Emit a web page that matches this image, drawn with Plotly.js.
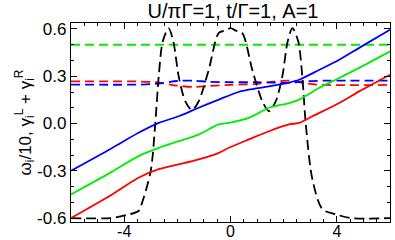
<!DOCTYPE html>
<html>
<head>
<meta charset="utf-8">
<script src="https://cdn.plot.ly/plotly-3.0.1.min.js"></script>
<style>
  html, body { margin: 0; padding: 0; background: #fff; }
  #chart { width: 395px; height: 240px; }
</style>
</head>
<body>
<div id="chart"></div>
<script>
// solid lines: omega_i / 10
const blueX  = [-6, -4.5, -3.46, -2.7, -1.95, -1.2, -0.44, 0.3, 0.69, 1.45, 2.2, 2.58, 3.33, 4.09, 4.84, 6];
const blueY  = [-0.30, -0.16, -0.059, 0.004, 0.046, 0.10, 0.152, 0.20, 0.215, 0.236, 0.26, 0.278, 0.34, 0.405, 0.48, 0.595];
const greenX = [-6, -4.5, -3.46, -2.7, -1.95, -1.2, -0.44, -0.06, 0.69, 1.45, 2.2, 2.58, 3.33, 4.09, 4.84, 6];
const greenY = [-0.45, -0.31, -0.207, -0.154, -0.112, -0.07, -0.006, 0.004, 0.036, 0.10, 0.13, 0.152, 0.226, 0.289, 0.353, 0.458];
const redX   = [-6, -4.5, -3.46, -2.7, -1.95, -1.2, -0.44, -0.06, 0.69, 1.45, 2.2, 2.58, 3.08, 4.09, 4.84, 6];
const redY   = [-0.60, -0.455, -0.344, -0.29, -0.26, -0.228, -0.186, -0.154, -0.101, -0.049, -0.006, 0.004, 0.046, 0.13, 0.204, 0.31];

// dashed lines: gamma_i^L + gamma_i^R
const gDashX = [-6, 6];
const gDashY = [0.5, 0.5];
const rDashX = [-6, -3.5, -2.8, -2.0, -1.4, -0.8, 0, 1.0, 1.6, 2.2, 2.8, 3.5, 6];
const rDashY = [0.267, 0.267, 0.262, 0.24, 0.232, 0.238, 0.245, 0.252, 0.265, 0.272, 0.255, 0.245, 0.245];
const bDashX = [-6, -3.5, -2.8, -2.0, -1.4, -0.8, 0, 1.0, 1.6, 2.2, 2.8, 3.5, 6];
const bDashY = [0.247, 0.247, 0.252, 0.27, 0.272, 0.265, 0.262, 0.262, 0.26, 0.258, 0.268, 0.272, 0.272];

// black dashed curve
const kX = [-6, -4.5, -3.9, -3.46, -3.34, -3.0, -2.83, -2.7, -2.55, -2.33, -2.15, -1.95, -1.7, -1.45, -1.2, -0.82, -0.44, -0.2, 0,
            0.2, 0.44, 0.82, 1.2, 1.45, 1.7, 1.95, 2.15, 2.33, 2.55, 2.7, 2.83, 3.08, 3.46, 3.96, 4.5, 6];
const kY = [-0.6, -0.6, -0.58, -0.555, -0.51, -0.3, 0.0, 0.3, 0.52, 0.605, 0.52, 0.3, 0.14, 0.085, 0.14, 0.34, 0.576, 0.59, 0.605,
            0.59, 0.576, 0.34, 0.14, 0.078, 0.14, 0.3, 0.52, 0.605, 0.52, 0.3, 0.0, -0.354, -0.544, -0.576, -0.6, -0.6];

const yTitle = 'ω<sub>i</sub>/10, γ<sub>i</sub><sup>L</sup> + γ<sub>i</sub><sup>R</sup>';

const traces = [
  { x: gDashX, y: gDashY, color: '#00ee00', dash: '9px,5px' },
  { x: rDashX, y: rDashY, color: '#ff0000', dash: '9px,5px' },
  { x: bDashX, y: bDashY, color: '#0000ff', dash: '9px,5px' },
  { x: kX, y: kY, color: '#000000', dash: '10px,5px' },
  { x: blueX, y: blueY, color: '#0000ff', dash: 'solid' },
  { x: greenX, y: greenY, color: '#00ee00', dash: 'solid' },
  { x: redX, y: redY, color: '#ff0000', dash: 'solid' }
].map(t => ({
  x: t.x,
  y: t.y,
  type: 'scatter',
  mode: 'lines',
  line: { color: t.color, width: 1.8, dash: t.dash, shape: 'spline', smoothing: 0.8 },
  hoverinfo: 'skip'
}));

const font = 'Liberation Sans, Arial, sans-serif';

const axisCommon = {
  showgrid: false,
  zeroline: false,
  showline: true,
  linecolor: '#000',
  linewidth: 1.2,
  mirror: 'ticks',
  ticks: 'inside',
  ticklen: 6,
  tickcolor: '#000',
  tickfont: { family: font, size: 17, color: '#000' }
};

const layout = {
  width: 395,
  height: 240,
  margin: { l: 71, r: 5, t: 23, b: 18 },
  paper_bgcolor: '#fff',
  plot_bgcolor: '#fff',
  showlegend: false,
  title: {
    text: 'U/πΓ=1, t/Γ=1, A=1',
    font: { family: font, size: 20, color: '#000' },
    x: 0.59, xanchor: 'center', y: 0.955, yanchor: 'middle'
  },
  xaxis: Object.assign({}, axisCommon, {
    range: [-6, 6],
    tickvals: [-4, 0, 4],
    ticktext: ['-4', '0', '4'],
    ticklabelstandoff: -5,
    tickfont: { family: font, size: 16, color: '#000' },
    minor: { dtick: 0.5, ticklen: 3, ticks: 'inside', tickcolor: '#000', showgrid: false }
  }),
  yaxis: Object.assign({}, axisCommon, {
    range: [-0.625, 0.638],
    tickvals: [-0.6, -0.3, 0, 0.3, 0.6],
    ticktext: ['-0.6', '-0.3', '0.0', '0.3', '0.6'],
    minor: { dtick: 0.1, ticklen: 3, ticks: 'inside', tickcolor: '#000', showgrid: false }
  }),
  annotations: [{
    text: yTitle,
    xref: 'paper', yref: 'paper',
    x: 0, y: 0.5,
    xanchor: 'center', yanchor: 'middle',
    xshift: -46,
    textangle: -90,
    showarrow: false,
    font: { family: font, size: 17, color: '#000' }
  }]
};

Plotly.newPlot('chart', traces, layout, { staticPlot: true, displayModeBar: false });
</script>
</body>
</html>
